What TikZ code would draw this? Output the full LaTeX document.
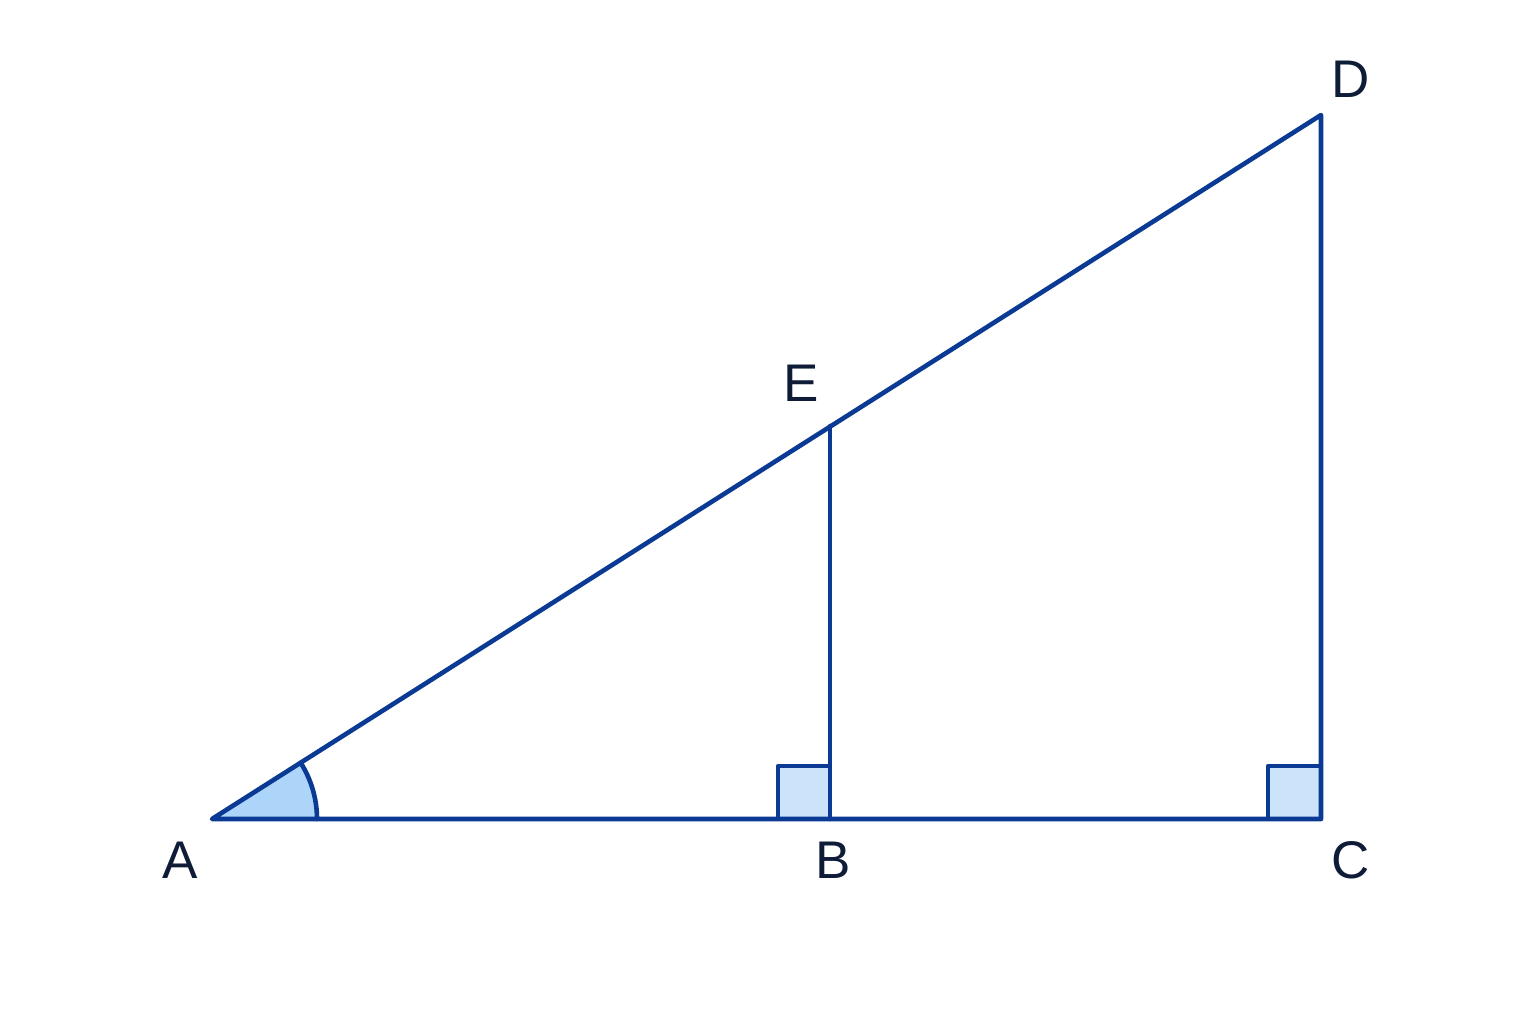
\documentclass[tikz,border=0pt]{standalone}
\usepackage{fontspec}
\setmainfont{Liberation Sans}
\definecolor{lineblue}{HTML}{0B3A94}
\definecolor{arcfill}{HTML}{ADD5FA}
\definecolor{boxfill}{HTML}{CCE4FA}
\definecolor{txt}{HTML}{0F1C38}
\tikzset{
  seg/.style={draw=lineblue, line width=4.6pt, line cap=round, line join=round},
  lbl/.style={text=txt, font=\fontsize{53}{60}\selectfont, inner sep=0pt},
}
\begin{document}
\begin{tikzpicture}[x=1pt,y=-1pt]
\useasboundingbox (0,0) rectangle (1536,1024);
\coordinate (A) at (212,819);
\coordinate (B) at (830,819);
\coordinate (C) at (1321,819);
\coordinate (D) at (1321,115);
\coordinate (E) at (830,426);
% angle arc fill
\fill[arcfill] (A) -- ++(105,0) arc[start angle=0, end angle=-32.4, radius=105] -- cycle;
\draw[seg] (A) ++(105,0) arc[start angle=0, end angle=-32.4, radius=105];
% right angle boxes
\filldraw[fill=boxfill, seg] (B) -- ++(-52,0) -- ++(0,-53) -- ++(52,0) -- cycle;
\filldraw[fill=boxfill, seg] (C) -- ++(-53,0) -- ++(0,-53) -- ++(53,0) -- cycle;
% main lines
\draw[seg] (A) -- (C) -- (D) -- cycle;
\draw[seg] (B) -- (E);
% labels
\node[lbl] (lA) at (180,860) {A};
\node[lbl] (lB) at (833,860) {B};
\node[lbl] (lC) at (1351,860) {C};
\node[lbl] (lD) at (1351,79) {D};
\node[lbl] (lE) at (801,383) {E};
\end{tikzpicture}
\end{document}
